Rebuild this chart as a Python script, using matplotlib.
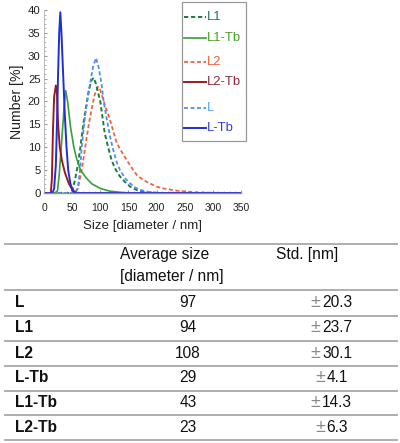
import matplotlib
matplotlib.use("Agg")
import matplotlib.pyplot as plt
from matplotlib.lines import Line2D
from matplotlib.patches import Rectangle

plt.rcParams['font.family'] = ['Liberation Sans', 'DejaVu Sans']

# ---------------- data ----------------
series_names = ["L1", "L1-Tb", "L2", "L2-Tb", "L", "L-Tb"]

L1_x = [0, 45, 50, 55, 60, 64, 70, 75, 79, 84, 88, 92, 96, 100, 104, 108, 114, 120, 127, 135, 144, 153, 167, 180, 200, 350]
L1_y = [0, 0, 0.5, 2.8, 6, 9.4, 15.2, 19, 22, 24.5, 25.2, 24, 22, 20, 16.5, 13, 10, 7.2, 5.2, 3.6, 2.4, 1.4, 0.5, 0.2, 0, 0]

L1Tb_x = [0, 20, 24, 27, 30, 33, 35.5, 38.5, 42, 47, 53, 58, 65, 75, 85, 100, 117, 140, 160, 350]
L1Tb_y = [0, 0, 0.5, 4, 9, 14, 18.5, 22.4, 20, 14.5, 10, 7.5, 5, 3.3, 2, 1, 0.4, 0.1, 0, 0]

L2_x = [0, 55, 60, 67, 72, 76, 81, 85, 90, 96, 100, 105, 110, 116, 122, 129, 138, 147, 156, 165, 177, 188, 200, 212, 236, 271, 300, 350]
L2_y = [0, 0, 1, 5, 9, 12.3, 16, 18.5, 21.5, 23.2, 22.5, 20.5, 18.5, 16.5, 14, 11, 9, 7.2, 5.5, 3.9, 2.8, 2.1, 1.4, 1.0, 0.5, 0.15, 0.05, 0]

L2Tb_x = [0, 12, 14, 16, 18, 21, 23, 25, 28, 32, 37, 44, 50, 55, 60, 350]
L2Tb_y = [0, 0, 3, 14, 21, 23.5, 22, 15, 10, 7, 4.5, 2.1, 0.8, 0.2, 0, 0]

L_x = [0, 55, 60, 64, 67, 72.8, 78, 82, 87, 92.4, 97, 102, 106, 111, 117, 123, 129, 135, 144, 153, 162, 170, 188, 210, 350]
L_y = [0, 0, 1, 5, 10, 16.7, 21, 24, 27.5, 29.5, 27.5, 24, 20, 16.5, 12.5, 9.4, 6.8, 5, 3.2, 2.1, 1.2, 0.7, 0.2, 0, 0]

LTb_x = [0, 15, 18, 21, 23, 25, 27, 29, 31, 33, 35, 37, 40, 43, 47, 52, 56, 350]
LTb_y = [0, 0, 1, 6, 15, 26, 35, 39.5, 35, 29, 23, 17, 10, 5, 2, 0.3, 0, 0]

x_ticks = [0, 50, 100, 150, 200, 250, 300, 350]
y_ticks = [0, 5, 10, 15, 20, 25, 30, 35, 40]

row_labels = ["L", "L1", "L2", "L-Tb", "L1-Tb", "L2-Tb"]
avg_size = ["97", "94", "108", "29", "43", "23"]
std_nm = ["20.3", "23.7", "30.1", "4.1", "14.3", "6.3"]

# ---------------- styles ----------------
W, H = 400, 443
fig = plt.figure(figsize=(W / 100, H / 100), dpi=100)

def fx(px):
    return px / W

def fy(py):
    return 1 - py / H

ax = fig.add_axes([fx(44), fy(193), 197 / W, 183 / H])

dash = (0, (2.2, 1.4))
styles = {
    "L1": dict(color="#1e7b3c", ls=dash, lw=1.4),
    "L1-Tb": dict(color="#3a9e3a", ls="-", lw=1.2),
    "L2": dict(color="#f0643c", ls=dash, lw=1.3),
    "L2-Tb": dict(color="#9b1c1c", ls="-", lw=1.4),
    "L": dict(color="#4f8ff7", ls=dash, lw=1.3),
    "L-Tb": dict(color="#1f2fd8", ls="-", lw=1.4),
}
text_colors = {
    "L1": "#1e7b4a", "L1-Tb": "#4a9e2a", "L2": "#e8603c",
    "L2-Tb": "#8b2a3a", "L": "#5aa0ff", "L-Tb": "#3040e0",
}
data = {
    "L1": (L1_x, L1_y), "L1-Tb": (L1Tb_x, L1Tb_y), "L2": (L2_x, L2_y),
    "L2-Tb": (L2Tb_x, L2Tb_y), "L": (L_x, L_y), "L-Tb": (LTb_x, LTb_y),
}
draw_order = ["L2", "L1", "L", "L1-Tb", "L2-Tb", "L-Tb"]
for name in draw_order:
    x, y = data[name]
    ax.plot(x, y, label=name, **styles[name])

ax.set_xlim(0, 350)
ax.set_ylim(0, 40)
ax.set_xticks(x_ticks)
ax.set_yticks(y_ticks)
ax.set_xticks(range(0, 351, 10), minor=True)
ax.set_yticks(range(0, 41, 1), minor=True)
for s in ["top", "right"]:
    ax.spines[s].set_visible(False)
ax.spines["left"].set_color("#b0b0b0")
ax.spines["left"].set_linewidth(0.6)
ax.spines["bottom"].set_color("#9a8c8c")
ax.spines["bottom"].set_linewidth(1.0)
ax.tick_params(axis="x", which="major", labelsize=7.5, length=2, direction="in", color="#999999", pad=7.5, labelcolor="#222222")
ax.tick_params(axis="y", which="major", labelsize=8.2, length=2, direction="in", color="#999999", pad=2.5, labelcolor="#222222")
ax.tick_params(which="minor", length=1.2, direction="in", color="#aaaaaa")
ax.set_xlabel("Size [diameter / nm]", fontsize=9.6, labelpad=4.5, color="#222222")
ax.set_ylabel("Number [%]", fontsize=10.2, labelpad=3, color="#222222")

# ---------------- legend (drawn in figure pixels) ----------------
fig.add_artist(Rectangle((fx(181.5), fy(141)), (246 - 181.5) / W, (141 - 2.5) / H,
                         transform=fig.transFigure, fill=True, facecolor="white",
                         edgecolor="#999999", lw=0.9))
leg_y = [17.3, 37.7, 61.7, 81.7, 107.7, 127.7]
for name, ly in zip(series_names, leg_y):
    st = styles[name]
    fig.add_artist(Line2D([fx(184), fx(206)], [fy(ly), fy(ly)], color=st["color"],
                          ls=st["ls"], lw=st["lw"], transform=fig.transFigure))
    fig.text(fx(207), fy(ly), name, fontsize=9.4, ha="left", va="center",
             color=text_colors[name])

# ---------------- table ----------------
line_ys = [244, 290, 315.5, 340.5, 365.5, 390.5, 415, 439.5]
for ly in line_ys:
    fig.add_artist(Line2D([fx(5), fx(397)], [fy(ly), fy(ly)],
                          color="#a8a8a8", lw=1.3, transform=fig.transFigure))

tfs = 11.2
fig.text(fx(120), fy(255), "Average size", fontsize=tfs, ha="left", va="center", color="#111111")
fig.text(fx(120), fy(277), "[diameter / nm]", fontsize=tfs, ha="left", va="center", color="#111111")
fig.text(fx(276), fy(255), "Std. [nm]", fontsize=tfs, ha="left", va="center", color="#111111")

renderer = fig.canvas.get_renderer()
pm_w = 13  # pixel width reserved for the ± sign
for i, (lab, a, s) in enumerate(zip(row_labels, avg_size, std_nm)):
    yc = (line_ys[i + 1] + line_ys[i + 2]) / 2
    fig.text(fx(15), fy(yc), lab, fontsize=tfs, fontweight="bold", ha="left", va="center", color="#111111")
    fig.text(fx(188), fy(yc), a, fontsize=tfs, ha="center", va="center", color="#111111")
    t = fig.text(0, fy(yc), s, fontsize=tfs, ha="left", va="center", color="#111111")
    w = t.get_window_extent(renderer).width
    left = 330.5 - (pm_w + w) / 2
    t.set_x(fx(left + pm_w))
    fig.text(fx(left + pm_w / 2), fy(yc), "\u00b1", fontsize=tfs * 1.15, ha="center", va="center", color="#8a8a8a")

fig.savefig("out.png", dpi=100)
